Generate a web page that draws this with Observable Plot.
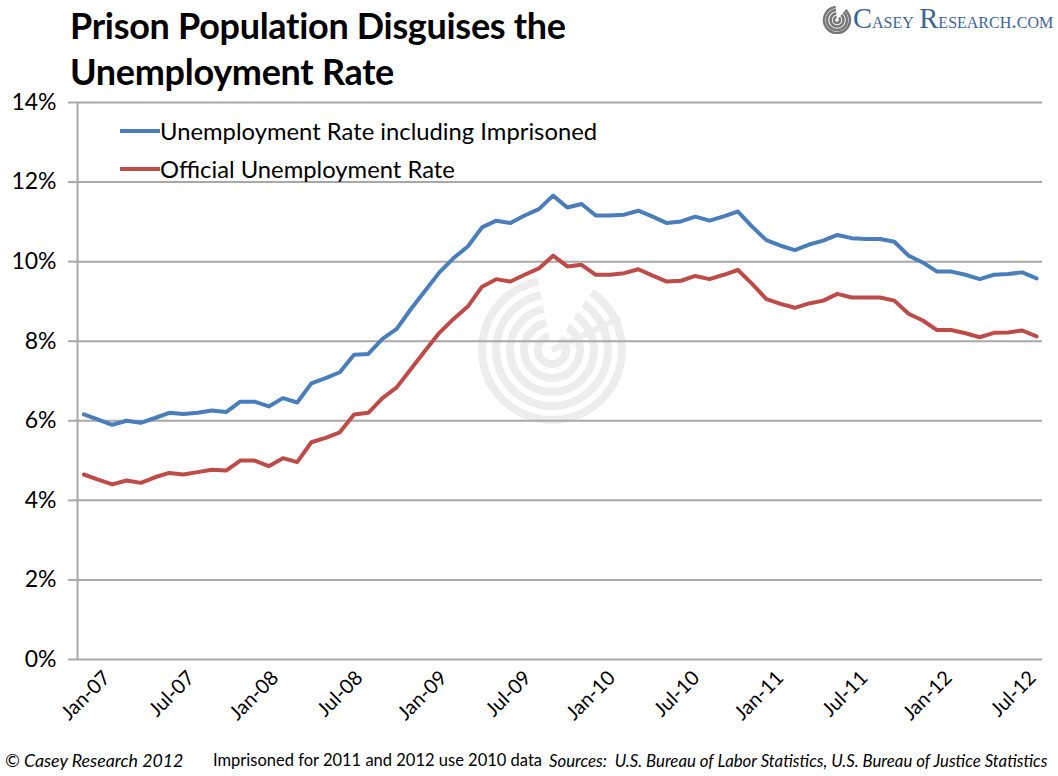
<!DOCTYPE html>
<html>
<head>
<meta charset="utf-8">
<script src="https://cdn.jsdelivr.net/npm/d3@7"></script>
<script src="https://cdn.jsdelivr.net/npm/@observablehq/plot@0.6"></script>
<style>
  html, body { margin: 0; padding: 0; background: #fff; }
  #wrap { position: relative; width: 1058px; height: 776px; overflow: hidden; font-family: Lato, "Open Sans", sans-serif; color: #000; }
  #title { position: absolute; left: 70px; top: 2px; font-weight: 700; font-size: 36px; line-height: 46px; letter-spacing: -0.3px; }
  #logo { position: absolute; left: 822px; top: 3px; display: flex; align-items: center; }
  #logo .txt { font-family: "Liberation Serif", "DejaVu Serif", serif; color: #3b6596; font-size: 22.2px; font-variant: small-caps; margin-left: 1px; }
  #legend { position: absolute; left: 120px; top: 112px; font-size: 23.8px; }
  #legend .row { display: flex; align-items: center; height: 38px; }
  #legend .sw { width: 40px; height: 4px; }
  .cap { position: absolute; top: 750px; font-size: 16.5px; white-space: nowrap; }
  #wm { position: absolute; left: 0; top: 0; }
  #chart { position: absolute; left: 0; top: 0; }
</style>
</head>
<body>
<div id="wrap">
  <svg id="wm" width="1058" height="776"></svg>
  <div id="chart"></div>
  <div id="title">Prison Population Disguises the<br>Unemployment Rate</div>
  <div id="logo"><svg width="30" height="30" viewBox="0 0 30 30" id="logoIcon"></svg><span class="txt"><span style="font-size:28.5px">C</span>asey <span style="font-size:28.5px">R</span>esearch.com</span></div>
  <div id="legend"></div>
  <div class="cap" style="left:5px;font-style:italic;font-size:17.8px;top:749px">© Casey Research 2012</div>
  <div class="cap" style="left:213px">Imprisoned for 2011 and 2012 use 2010 data</div>
  <div class="cap" style="left:549px;font-style:italic;font-size:16.8px">Sources:&nbsp; U.S. Bureau of Labor Statistics, U.S. Bureau of Justice Statistics</div>
</div>
<script>
// Monthly data, Jan-07 .. Aug-12 (index 0..67)
const months = d3.utcMonths(new Date(Date.UTC(2007, 0, 1)), new Date(Date.UTC(2012, 8, 1)));
const withImprisoned = [
  6.16, 6.03, 5.90, 6.00, 5.95, 6.07, 6.20, 6.17, 6.20, 6.26, 6.22, 6.48,
  6.48, 6.36, 6.57, 6.46, 6.94, 7.07, 7.22, 7.66, 7.68, 8.06, 8.31, 8.81,
  9.27, 9.73, 10.09, 10.38, 10.86, 11.03, 10.97, 11.16, 11.32, 11.66, 11.36, 11.45,
  11.16, 11.16, 11.18, 11.28, 11.13, 10.97, 11.01, 11.13, 11.03, 11.14, 11.26, 10.88,
  10.54, 10.40, 10.29, 10.43, 10.53, 10.67, 10.59, 10.57, 10.57, 10.50, 10.15, 9.98,
  9.75, 9.75, 9.67, 9.56, 9.67, 9.69, 9.73, 9.58
];
const official = [
  4.65, 4.52, 4.40, 4.50, 4.44, 4.58, 4.69, 4.65, 4.71, 4.77, 4.75, 5.00,
  5.00, 4.86, 5.06, 4.96, 5.46, 5.57, 5.71, 6.16, 6.20, 6.57, 6.84, 7.30,
  7.76, 8.21, 8.56, 8.87, 9.37, 9.56, 9.50, 9.67, 9.83, 10.15, 9.88, 9.92,
  9.67, 9.67, 9.71, 9.81, 9.65, 9.50, 9.52, 9.64, 9.56, 9.67, 9.79, 9.44,
  9.06, 8.94, 8.84, 8.95, 9.02, 9.19, 9.10, 9.10, 9.10, 9.02, 8.69, 8.52,
  8.28, 8.28, 8.20, 8.10, 8.21, 8.22, 8.27, 8.12
];
const seriesNames = ["Unemployment Rate including Imprisoned", "Official Unemployment Rate"];
const seriesColors = ["#4a7ebb", "#be4b48"];
const tickLabels = ["Jan-07","Jul-07","Jan-08","Jul-08","Jan-09","Jul-09","Jan-10","Jul-10","Jan-11","Jul-11","Jan-12","Jul-12"];
const yTicks = [0, 2, 4, 6, 8, 10, 12, 14];

const rows = [];
months.forEach((m, i) => {
  rows.push({i, date: m, value: withImprisoned[i], series: seriesNames[0]});
  rows.push({i, date: m, value: official[i], series: seriesNames[1]});
});
// label positions on the category (month index) axis; Excel's date-axis labels run a bit tighter than the points
const labelStep = 5.92;
const tickIdx = tickLabels.map((_, k) => k * labelStep);
const xDomain = [-0.45, months.length - 1 + 0.42];

const plot = Plot.plot({
  width: 1058,
  height: 776,
  marginTop: 102,
  marginBottom: 117,
  marginLeft: 77,
  marginRight: 16,
  style: {background: "transparent", fontFamily: "Lato, 'Open Sans', sans-serif", color: "#000"},
  x: {type: "linear", domain: xDomain},
  y: {domain: [0, 14]},
  color: {domain: seriesNames, range: seriesColors},
  marks: [
    Plot.ruleY(yTicks, {stroke: "#a8a8a8", strokeWidth: 2}),
    Plot.ruleX([xDomain[0]], {y1: 0, y2: 14, stroke: "#a8a8a8", strokeWidth: 2}),
    Plot.axisY({ticks: yTicks, tickFormat: d => d + "%", tickSize: 9, stroke: "#a8a8a8", strokeWidth: 2, tickPadding: 12, fontSize: 23, label: null}),
    Plot.axisX({ticks: tickIdx, tickFormat: (d, k) => tickLabels[k], tickSize: 0, tickPadding: 10, tickRotate: -45, fontSize: 20, dx: 23, dy: 5, label: null}),
    Plot.line(rows, {x: "i", y: "value", z: "series", stroke: "series", strokeWidth: 4, strokeLinejoin: "round", strokeLinecap: "round"})
  ]
});
document.getElementById("chart").appendChild(plot);

// legend
const lg = document.getElementById("legend");
seriesNames.forEach((n, k) => {
  const r = document.createElement("div");
  r.className = "row";
  r.innerHTML = `<div class="sw" style="background:${seriesColors[k]}"></div><span>${n}</span>`;
  lg.appendChild(r);
});

// watermark (decorative)
const wm = d3.select("#wm");
[14, 28, 42, 56, 70].forEach(r => {
  wm.append("path")
    .attr("d", d3.arc()({innerRadius: r - 4, outerRadius: r + 4, startAngle: 0.6, endAngle: 2 * Math.PI - 0.2}))
    .attr("transform", "translate(552,350)")
    .attr("fill", "#ededed");
});
wm.append("line").attr("x1", 552).attr("y1", 350).attr("x2", 620).attr("y2", 318).attr("stroke", "#ededed").attr("stroke-width", 6);

// logo icon
const li = d3.select("#logoIcon");
[3, 6.5, 10, 13].forEach(r => {
  li.append("path")
    .attr("d", d3.arc()({innerRadius: r - 1.3, outerRadius: r + 1.3, startAngle: 0.7, endAngle: 2 * Math.PI - 0.1}))
    .attr("transform", "translate(15,16)")
    .attr("fill", "#777");
});
</script>
</body>
</html>
